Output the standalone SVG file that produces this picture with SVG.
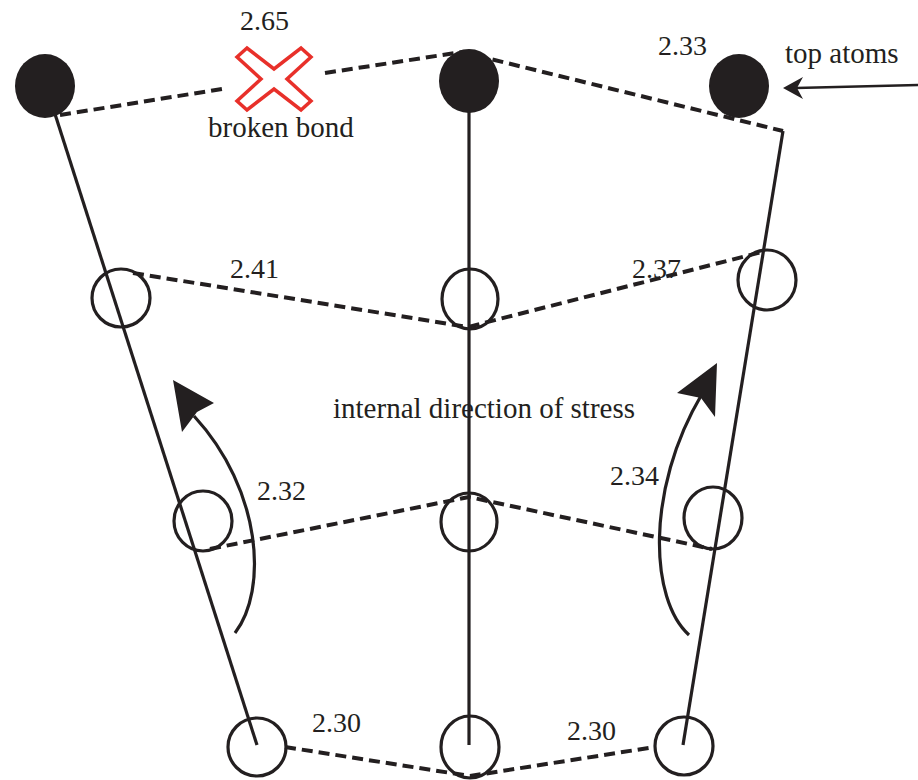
<svg xmlns="http://www.w3.org/2000/svg" width="918" height="780" viewBox="0 0 918 780">
  <style>
    .solid { fill: none; stroke: #231f20; stroke-width: 3.2; }
    .bond { fill: none; stroke: #231f20; stroke-width: 4; stroke-dasharray: 11 6; }
    .atom { fill: none; stroke: #231f20; stroke-width: 3.2; }
    .top { fill: #231f20; stroke: none; }
    .head { fill: #231f20; stroke: none; }
    .lbl { font-family: "Liberation Serif", "Times New Roman", serif; font-size: 28px; fill: #231f20; }
    .word { font-size: 29px; }
    .cross { fill: #ffffff; stroke: #e8302a; stroke-width: 3.5; stroke-linejoin: miter; }
  </style>

  <!-- connectors: chains, dashed bonds, stress arrows -->
  <g id="connectors">
    <!-- solid chains -->
    <line class="solid" x1="55" y1="114" x2="257" y2="745"/>
    <line class="solid" x1="469" y1="82" x2="469" y2="745"/>
    <line class="solid" x1="783" y1="131" x2="683" y2="745"/>

    <!-- top bonds (one broken) -->
    <polyline class="bond" points="60,115 222,89"/>
    <polyline class="bond" points="325,73 462,52 783,131"/>

    <!-- second row -->
    <polyline class="bond" points="133,273 468,327 762,252"/>
    <!-- third row -->
    <polyline class="bond" points="210,549 469,497 712,549"/>
    <!-- bottom row -->
    <polyline class="bond" points="285,747 470,776 655,747"/>

    <!-- stress arrows -->
    <path class="solid" d="M235,633 C268,590 262,490 194,416"/>
    <path class="head" d="M173,380 L214,403 L197,412 L182,432 Z"/>
    <path class="solid" d="M689,635 C650,600 645,490 702,394"/>
    <path class="head" d="M717,363 L715,417 L701,398 L677,393 Z"/>

    <!-- pointer to top atoms -->
    <line class="solid" x1="918" y1="85" x2="796" y2="88" style="stroke-width:2.5"/>
    <path class="head" d="M783,88 L803,77 L797,88 L803,99 Z"/>
  </g>

  <!-- top atoms -->
  <g id="top-left"><ellipse class="top" cx="45" cy="86" rx="30" ry="32"/></g>
  <g id="top-mid"><ellipse class="top" cx="469" cy="81" rx="30" ry="32"/></g>
  <g id="top-right"><ellipse class="top" cx="739" cy="86" rx="30" ry="32"/></g>

  <!-- second row atoms -->
  <g id="r2-left"><ellipse class="atom" cx="121" cy="298" rx="29" ry="29"/></g>
  <g id="r2-mid"><ellipse class="atom" cx="470" cy="299" rx="28" ry="30"/></g>
  <g id="r2-right"><ellipse class="atom" cx="767" cy="280" rx="29" ry="30"/></g>

  <!-- third row atoms -->
  <g id="r3-left"><ellipse class="atom" cx="203" cy="521" rx="29" ry="30"/></g>
  <g id="r3-mid"><ellipse class="atom" cx="469" cy="522" rx="28" ry="29"/></g>
  <g id="r3-right"><ellipse class="atom" cx="713" cy="518" rx="29" ry="31"/></g>

  <!-- bottom atoms -->
  <g id="r4-left"><ellipse class="atom" cx="257" cy="747" rx="29" ry="29"/></g>
  <g id="r4-mid"><ellipse class="atom" cx="470" cy="747" rx="29" ry="31"/></g>
  <g id="r4-right"><ellipse class="atom" cx="684" cy="746" rx="29" ry="29"/></g>

  <!-- broken bond marker -->
  <g id="broken-bond">
    <polygon class="cross" transform="translate(274,79)"
      points="-37,-22 -27,-31 0,-10 27,-31 37,-22 13,0 37,22 27,31 0,10 -27,31 -37,22 -13,0"/>
    <text class="lbl word" x="208" y="137">broken bond</text>
  </g>

  <!-- labels -->
  <g id="labels">
    <text class="lbl" x="240" y="30">2.65</text>
    <text class="lbl" x="658" y="55">2.33</text>
    <text class="lbl word" x="785" y="63">top atoms</text>
    <text class="lbl" x="230" y="278">2.41</text>
    <text class="lbl" x="632" y="278">2.37</text>
    <text class="lbl word" x="333" y="418">internal direction of stress</text>
    <text class="lbl" x="257" y="500">2.32</text>
    <text class="lbl" x="610" y="485">2.34</text>
    <text class="lbl" x="312" y="732">2.30</text>
    <text class="lbl" x="567" y="740">2.30</text>
  </g>
</svg>
